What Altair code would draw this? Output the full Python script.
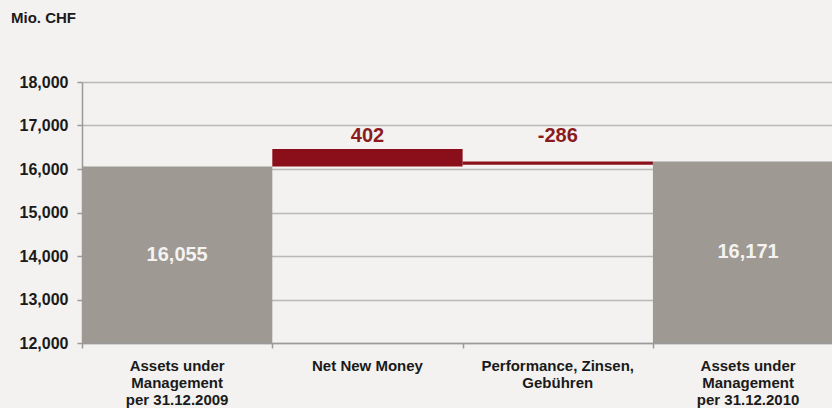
import altair as alt
import pandas as pd

# ---- data ----
categories = [
    "Assets under\nManagement\nper 31.12.2009",
    "Net New Money",
    "Performance, Zinsen,\nGebühren",
    "Assets under\nManagement\nper 31.12.2010",
]
kinds = ["total", "delta", "delta", "total"]
values = [16055, 402, -286, 16171]
value_labels = ["16,055", "402", "-286", "16,171"]
bar_start = [12000, 16055, 16095, 12000]   # as drawn in the reference
bar_end = [16055, 16457, 16171, 16171]
y_ticks = [12000, 13000, 14000, 15000, 16000, 17000, 18000]
unit_title = "Mio. CHF"

# running totals for label placement
running = []
total = 0
for k, v in zip(kinds, values):
    if k == "total":
        total = v
        running.append((12000 + v) / 2)
    else:
        prev = total
        total = total + v
        running.append(max(prev, total))

df = pd.DataFrame({
    "cat": categories,
    "kind": kinds,
    "x0": [i for i in range(len(categories))],
    "x1": [i + 1 for i in range(len(categories))],
    "xc": [i + 0.5 for i in range(len(categories))],
    "y0": bar_start,
    "y1": bar_end,
    "label": value_labels,
    "ly": running,
})

W, H = 750, 261
FONT = "Liberation Sans"
GREY = "#9e9993"
RED = "#8b0f1a"

xs = alt.Scale(domain=[0, 3.941], nice=False, zero=False)
ys = alt.Scale(domain=[12000, 18000], nice=False, zero=False)

base = alt.Chart(df)

bars = base.mark_bar(clip=True, strokeWidth=0).encode(
    x=alt.X("x0:Q", scale=xs, axis=alt.Axis(values=[0, 1, 2, 3], labels=False, title=None,
                                            grid=False, tickSize=5, tickColor="#9a9a9a",
                                            domainColor="#9a9a9a", domainWidth=1.5, tickWidth=1.5)),
    x2="x1:Q",
    y=alt.Y("y0:Q", scale=ys, axis=alt.Axis(values=y_ticks, title=None,
                                            labelExpr="format(datum.value, ',.0f')",
                                            labelFont=FONT, labelFontSize=16, labelFontWeight="bold",
                                            labelColor="#1a1a1a", labelPadding=9, tickSize=5,
                                            tickColor="#9a9a9a", domainColor="#9a9a9a",
                                            domainWidth=1.5, tickWidth=1.5,
                                            grid=True, gridColor="#b8b8b8", gridWidth=1.5)),
    y2="y1:Q",
    color=alt.Color("kind:N", scale=alt.Scale(domain=["total", "delta"], range=[GREY, RED]), legend=None),
)

total_labels = base.transform_filter(alt.datum.kind == "total").mark_text(
    font=FONT, fontSize=20, fontWeight="bold", color="#f4f3f1", baseline="middle", align="center"
).encode(x=alt.X("xc:Q", scale=xs), y=alt.Y("ly:Q", scale=ys), text="label:N")

delta_labels = base.transform_filter(alt.datum.kind == "delta").mark_text(
    font=FONT, fontSize=20, fontWeight="bold", color="#8b1a1e", baseline="bottom", align="center", dy=-3
).encode(x=alt.X("xc:Q", scale=xs), y=alt.Y("ly:Q", scale=ys), text="label:N")

cat_labels = base.mark_text(
    font=FONT, fontSize=15, fontWeight="bold", color="#1a1a1a", baseline="alphabetic",
    align="center", lineBreak="\n", lineHeight=17
).encode(x=alt.X("xc:Q", scale=xs), y=alt.value(H + 28), text="cat:N")

title = alt.Chart(pd.DataFrame({"t": [unit_title]})).mark_text(
    font=FONT, fontSize=15, fontWeight="bold", color="#1a1a1a", align="left", baseline="middle"
).encode(x=alt.value(-71), y=alt.value(-64), text="t:N")

chart = alt.layer(bars, total_labels, delta_labels, cat_labels, title).properties(
    width=W, height=H,
    background="#f3f2f0",
    padding={"left": 82, "top": 82, "right": 0, "bottom": 65},
    autosize=alt.AutoSizeParams(type="none"),
).configure_view(stroke=None)

chart.save("out.html", embed_options={"renderer": "svg", "actions": False})
